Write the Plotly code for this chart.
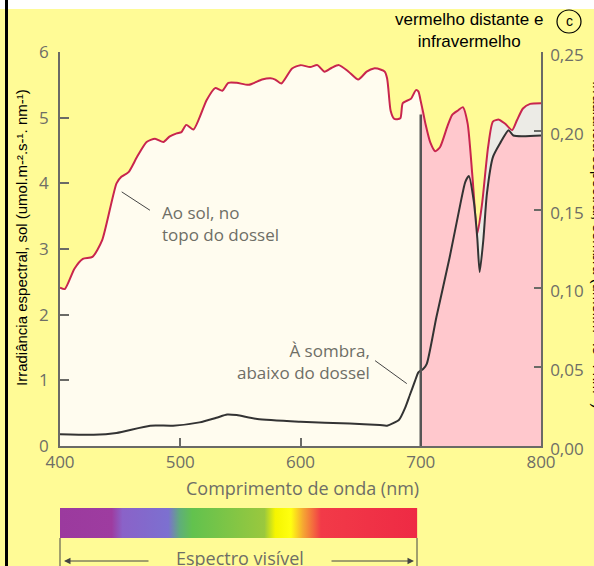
import plotly.graph_objects as go

# ---------------- data ----------------
SUN_NM = [400, 404, 412, 419, 427, 435, 447, 451, 457, 464, 472, 479, 486, 491, 497, 501,
          505, 511, 522, 529, 535, 540, 547, 557, 568, 575, 579, 584, 593, 600, 608, 614,
          620, 626, 632, 640, 648, 655, 661, 667, 670, 672, 673, 675, 678, 683, 685, 690,
          692, 696, 698, 700, 702, 704, 708, 712, 716, 722, 726, 731, 735, 739, 743, 747,
          751, 756, 760, 765, 770, 776, 780, 785, 791, 800]
SUN_IRR = [2.41, 2.39, 2.70, 2.85, 2.88, 3.13, 4.00, 4.10, 4.17, 4.40, 4.63, 4.68, 4.63, 4.71, 4.76, 4.78,
           4.89, 4.82, 5.27, 5.45, 5.41, 5.53, 5.53, 5.50, 5.58, 5.60, 5.58, 5.52, 5.75, 5.80, 5.77, 5.80,
           5.70, 5.76, 5.80, 5.70, 5.58, 5.70, 5.75, 5.73, 5.70, 5.60, 5.45, 5.10, 4.98, 4.99, 5.22, 5.27,
           5.29, 5.42, 5.40, 5.25, 5.08, 4.90, 4.62, 4.49, 4.55, 4.86, 5.04, 5.11, 5.16, 4.91, 4.10, 3.23,
           3.69, 4.55, 4.94, 4.97, 4.91, 4.81, 4.96, 5.14, 5.21, 5.22]

SHADE_NM = [400, 428, 447, 475, 494, 516, 530, 539, 547, 564, 600, 641, 666, 672, 682, 687,
            691, 695, 698, 700, 702, 705, 713, 724, 733, 737, 740, 744, 747, 749, 752, 755,
            760, 766, 773, 777, 800]
SHADE_IRR = [0.0075, 0.0071, 0.0083, 0.0129, 0.0129, 0.0150, 0.0179, 0.0200, 0.0196, 0.0171,
             0.0154, 0.0142, 0.0133, 0.0129, 0.0167, 0.0242, 0.0325, 0.0408, 0.0467, 0.0479,
             0.0488, 0.0521, 0.0817, 0.1196, 0.1538, 0.1675, 0.1713, 0.1558, 0.1320, 0.1104,
             0.1304, 0.1600, 0.1833, 0.1921, 0.2004, 0.1970, 0.1970]

X_TICKS = [400, 500, 600, 700, 800]
VISIBLE_LIMIT = 700          # boundary visible / far red
VISIBLE_LINE_TOP = 5.05
DIP_SPLIT = 747              # start of grey zone between curves

SPECTRUM_NM = [400, 443, 452, 490, 500, 510, 570, 579, 592, 602, 617, 697]
SPECTRUM_COLORS = ["#9B3A9E", "#9E3CA0", "#8A62C8", "#7C70D0", "#5FAF78", "#62C24E",
                   "#9AC83E", "#F5F500", "#FFFF10", "#F5A832", "#F23A48", "#EE2A44"]

# ---------------- styling ----------------
W, H = 594, 566
YELLOW = "#FFFB96"
CREAM = "#FFFCEF"
PINK = "#FFC8CD"
GREY_FILL = "#ECEBE6"
RED = "#C8254E"
DARK = "#333333"
AX = "#6A6A66"
TXT = "#6E6E66"
TICKFONT = dict(family="Open Sans", size=17, color=TXT)


def px(xp):
    return xp / W


def py(yp):
    return (H - yp) / H


XD = [px(60), px(541)]
YD = [py(446), py(52)]

fig = go.Figure()


def sub(nm, vals, lo, hi):
    pts = [(a, b) for a, b in zip(nm, vals) if lo <= a <= hi]
    return [p[0] for p in pts], [p[1] for p in pts]


LINE = dict(shape="spline", smoothing=0.6, width=0)
# cream under sun curve (visible)
x, y = sub(SUN_NM, SUN_IRR, 400, VISIBLE_LIMIT)
fig.add_trace(go.Scatter(x=x, y=y, fill="tozeroy", fillcolor=CREAM, mode="lines",
                         line=dict(LINE, color=CREAM), hoverinfo="skip", showlegend=False))
# pink under sun curve (far red)
x, y = sub(SUN_NM, SUN_IRR, VISIBLE_LIMIT, DIP_SPLIT)
fig.add_trace(go.Scatter(x=x, y=y, fill="tozeroy", fillcolor=PINK, mode="lines",
                         line=dict(LINE, color=PINK), hoverinfo="skip", showlegend=False))
# grey under sun curve beyond the dip
x, y = sub(SUN_NM, SUN_IRR, DIP_SPLIT, 800)
fig.add_trace(go.Scatter(x=x, y=y, fill="tozeroy", fillcolor=GREY_FILL, mode="lines",
                         line=dict(LINE, color=GREY_FILL), hoverinfo="skip", showlegend=False))
# sun line
fig.add_trace(go.Scatter(x=SUN_NM, y=SUN_IRR, mode="lines",
                         line=dict(shape="spline", smoothing=0.6, width=2, color=RED),
                         hoverinfo="skip", showlegend=False))
# pink under shade curve (far red), right axis
x, y = sub(SHADE_NM, SHADE_IRR, VISIBLE_LIMIT, 800)
fig.add_trace(go.Scatter(x=x, y=y, yaxis="y2", fill="tozeroy", fillcolor=PINK, mode="lines",
                         line=dict(LINE, color=PINK), hoverinfo="skip", showlegend=False))
# shade line
fig.add_trace(go.Scatter(x=SHADE_NM, y=SHADE_IRR, yaxis="y2", mode="lines",
                         line=dict(shape="spline", smoothing=0.6, width=2, color=DARK),
                         hoverinfo="skip", showlegend=False))

# spectrum bar
lo, hi = SPECTRUM_NM[0], SPECTRUM_NM[-1]
cs = [[(n - lo) / (hi - lo), c] for n, c in zip(SPECTRUM_NM, SPECTRUM_COLORS)]
fig.add_trace(go.Scatter(x=[lo, hi, hi, lo, lo], y=[0, 0, 1, 1, 0], xaxis="x3", yaxis="y3",
                         mode="lines", fill="toself", line=dict(width=0),
                         fillgradient=dict(type="horizontal", colorscale=cs),
                         hoverinfo="skip", showlegend=False))

axis_common = dict(showline=True, linecolor=AX, linewidth=1.5, ticks="inside",
                   tickcolor=AX, tickwidth=1.5, showgrid=False, zeroline=False,
                   tickfont=TICKFONT)

fig.update_layout(
    width=W, height=H, margin=dict(l=0, r=0, t=0, b=0, autoexpand=False),
    paper_bgcolor=YELLOW, plot_bgcolor="rgba(0,0,0,0)",
    separators=",.",
    xaxis=dict(axis_common, domain=XD, range=[400, 800], tickvals=X_TICKS, ticklen=8,
               anchor="y", ticklabelstandoff=0),
    yaxis=dict(axis_common, domain=YD, range=[0, 6], dtick=1, ticklen=9, anchor="x",
               ticklabelstandoff=6),
    yaxis2=dict(axis_common, range=[0, 0.25], dtick=0.05, tickformat=".2f", ticklen=7,
                overlaying="y", side="right", anchor="x", ticklabelshift=3,
                ticklabelstandoff=4),
    xaxis3=dict(domain=XD, range=[400, 800], visible=False, anchor="y3"),
    yaxis3=dict(domain=[py(538), py(508)], range=[0, 1], visible=False, anchor="x3"),
)

shapes = [
    # white strip at top and black left border
    dict(type="rect", xref="paper", yref="paper", x0=0, x1=1, y0=py(9), y1=1,
         fillcolor="white", line=dict(width=0), layer="above"),
    dict(type="rect", xref="paper", yref="paper", x0=px(5), x1=px(8), y0=0, y1=1,
         fillcolor="black", line=dict(width=0), layer="above"),
    # 700 nm boundary line
    dict(type="line", xref="x", yref="y", x0=VISIBLE_LIMIT, x1=VISIBLE_LIMIT, y0=0,
         y1=VISIBLE_LINE_TOP, line=dict(color="#555555", width=2.5), layer="above"),
    # leader lines
    dict(type="line", xref="x", yref="y", x0=451.3, y0=3.87, x1=474.8, y1=3.59,
         line=dict(color="#444444", width=1)),
    dict(type="line", xref="x", yref="y", x0=662, y0=1.30, x1=688.4, y1=0.95,
         line=dict(color="#444444", width=1)),
    # circle around "c"
    dict(type="circle", xref="paper", yref="paper", x0=px(557), x1=px(581), y0=py(33),
         y1=py(10), line=dict(color="black", width=1.2)),
    # bracket under spectrum
    dict(type="line", xref="paper", yref="paper", x0=px(60), x1=px(60), y0=py(538), y1=0,
         line=dict(color="#444444", width=1)),
    dict(type="line", xref="paper", yref="paper", x0=px(417), x1=px(417), y0=py(538), y1=0,
         line=dict(color="#444444", width=1)),
]
fig.update_layout(shapes=shapes)

C = dict(xanchor="center", yanchor="middle", showarrow=False)
ann = [
    dict(C, text="vermelho distante e<br>infravermelho", x=px(469), y=py(30), xref="paper",
         yref="paper", font=dict(family="Liberation Sans", size=17, color="black"),
         align="center"),
    dict(C, text="c", x=px(569), y=py(21), xref="paper", yref="paper",
         font=dict(family="Liberation Sans", size=14, color="black")),
    dict(C, text="Irradiância espectral, sol (umol.m-².s-¹. nm-¹)", x=px(21), y=py(238),
         xref="paper", yref="paper", textangle=-90,
         font=dict(family="Liberation Sans", size=15, color="black")),
    dict(C, text="Irradiância espectral, sombra (umol.m-².s-¹. nm-¹)", x=px(598), y=py(245),
         xref="paper", yref="paper", textangle=90,
         font=dict(family="Liberation Sans", size=15, color="black")),
    dict(C, text="Comprimento de onda (nm)", x=px(302), y=py(488), xref="paper", yref="paper",
         font=dict(family="Open Sans", size=18, color=TXT)),
    dict(text="Ao sol, no<br>topo do dossel", x=483.2, y=3.39, xref="x", yref="y",
         xanchor="left", yanchor="middle", align="left", showarrow=False,
         font=dict(family="Open Sans", size=17, color=TXT)),
    dict(text="À sombra,<br>abaixo do dossel", x=659.5, y=1.28, xref="x", yref="y",
         xanchor="right", yanchor="middle", align="right", showarrow=False,
         font=dict(family="Open Sans", size=17, color=TXT)),
    dict(C, text="Espectro visível", x=px(240), y=py(558), xref="paper", yref="paper",
         font=dict(family="Open Sans", size=18, color=TXT)),
    # arrows
    dict(text="", x=px(64), y=py(561), xref="paper", yref="paper", ax=86, ay=0,
         showarrow=True, arrowhead=2, arrowsize=1.3, arrowwidth=1, arrowcolor="#444444"),
    dict(text="", x=px(414), y=py(561), xref="paper", yref="paper", ax=-84, ay=0,
         showarrow=True, arrowhead=2, arrowsize=1.3, arrowwidth=1, arrowcolor="#444444"),
]
fig.update_layout(annotations=ann)

fig.write_html("out.html")
